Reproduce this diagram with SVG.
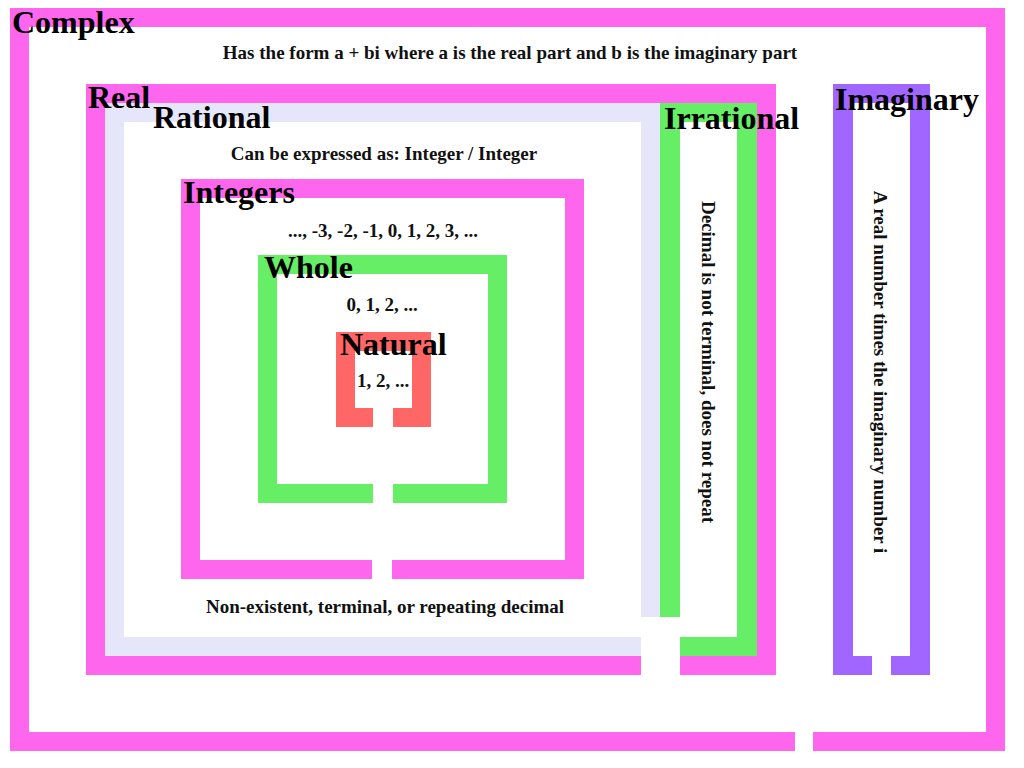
<svg xmlns="http://www.w3.org/2000/svg" width="1024" height="768" viewBox="0 0 1024 768">
<style>
.pink{fill:#FF66EE}
.lav{fill:#E6E6FA}
.green{fill:#66EE66}
.red{fill:#FF6666}
.purple{fill:#A066FF}
.title{font-family:"Liberation Serif","Times New Roman",serif;font-weight:bold;font-size:32px;fill:#000}
.desc{font-family:"Liberation Serif","Times New Roman",serif;font-weight:bold;font-size:19px;fill:#111;text-anchor:middle}
</style>
<rect x="0" y="0" width="1024" height="768" fill="#fff"/>
<g id="complex">
<rect class="pink" x="10" y="8" width="995" height="19"/>
<rect class="pink" x="10" y="8" width="19" height="743"/>
<rect class="pink" x="986" y="8" width="19" height="743"/>
<rect class="pink" x="10" y="732" width="785" height="19"/>
<rect class="pink" x="813" y="732" width="192" height="19"/>
</g>
<g id="real">
<rect class="pink" x="86" y="84" width="690" height="19"/>
<rect class="pink" x="86" y="84" width="19" height="591"/>
<rect class="pink" x="757" y="84" width="19" height="591"/>
<rect class="pink" x="86" y="656" width="555" height="19"/>
<rect class="pink" x="680" y="656" width="96" height="19"/>
</g>
<g id="rational">
<rect class="lav" x="105" y="103" width="555" height="19"/>
<rect class="lav" x="105" y="103" width="19" height="553"/>
<rect class="lav" x="641" y="103" width="19" height="514"/>
<rect class="lav" x="105" y="637" width="536" height="19"/>
</g>
<g id="irrational">
<rect class="green" x="660" y="103" width="97" height="19"/>
<rect class="green" x="660" y="103" width="20" height="514"/>
<rect class="green" x="737" y="103" width="20" height="553"/>
<rect class="green" x="680" y="637" width="77" height="19"/>
</g>
<g id="integers">
<rect class="pink" x="181" y="179" width="403" height="19"/>
<rect class="pink" x="181" y="179" width="19" height="400"/>
<rect class="pink" x="565" y="179" width="19" height="400"/>
<rect class="pink" x="181" y="560" width="191" height="19"/>
<rect class="pink" x="392" y="560" width="192" height="19"/>
</g>
<g id="whole">
<rect class="green" x="258" y="255" width="249" height="19"/>
<rect class="green" x="258" y="255" width="19" height="248"/>
<rect class="green" x="488" y="255" width="19" height="248"/>
<rect class="green" x="258" y="484" width="115" height="19"/>
<rect class="green" x="393" y="484" width="114" height="19"/>
</g>
<g id="natural">
<rect class="red" x="336" y="332" width="95" height="19"/>
<rect class="red" x="336" y="332" width="19" height="95"/>
<rect class="red" x="412" y="332" width="19" height="95"/>
<rect class="red" x="336" y="408" width="37" height="19"/>
<rect class="red" x="393" y="408" width="38" height="19"/>
</g>
<g id="imaginary">
<rect class="purple" x="833" y="84" width="97" height="19"/>
<rect class="purple" x="833" y="84" width="20" height="591"/>
<rect class="purple" x="910" y="84" width="20" height="591"/>
<rect class="purple" x="833" y="656" width="39" height="19"/>
<rect class="purple" x="891" y="656" width="39" height="19"/>
</g>
<g id="labels">
<text class="title" x="12" y="33">Complex</text>
<text class="desc" x="510" y="59">Has the form a + bi where a is the real part and b is the imaginary part</text>
<text class="title" x="88" y="108">Real</text>
<text class="title" x="153" y="128">Rational</text>
<text class="desc" x="384" y="160">Can be expressed as: Integer / Integer</text>
<text class="title" x="183" y="203">Integers</text>
<text class="desc" x="383" y="237">..., -3, -2, -1, 0, 1, 2, 3, ...</text>
<text class="title" x="264" y="278">Whole</text>
<text class="desc" x="382" y="311">0, 1, 2, ...</text>
<text class="title" x="340" y="355">Natural</text>
<text class="desc" x="383" y="387">1, 2, ...</text>
<text class="desc" x="385" y="613">Non-existent, terminal, or repeating decimal</text>
<text class="title" x="664" y="129">Irrational</text>
<text class="desc" transform="translate(708,362) rotate(90)" dominant-baseline="central">Decimal is not terminal, does not repeat</text>
<text class="title" x="835" y="110">Imaginary</text>
<text class="desc" transform="translate(880,372) rotate(90)" dominant-baseline="central">A real number times the imaginary number i</text>
</g>
</svg>
